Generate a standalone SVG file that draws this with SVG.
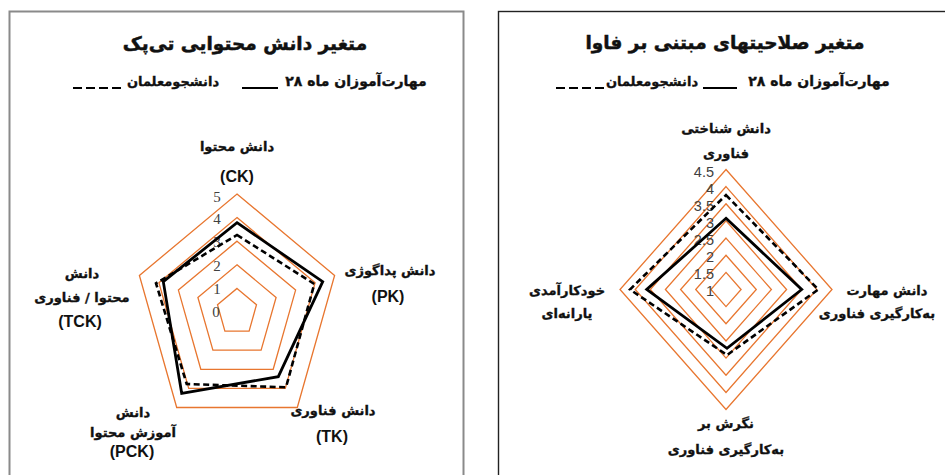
<svg xmlns="http://www.w3.org/2000/svg" width="945" height="475" viewBox="0 0 945 475">
<style>
.fa{font-family:"DejaVu Sans",sans-serif;font-weight:bold;fill:#111;stroke:#111;stroke-width:0.35;text-anchor:middle;direction:rtl}
.ttl{font-size:18.5px;stroke-width:0.5}
.leg{font-size:14px}
.leg2{font-size:13px}
.lab{font-size:13px}
.abbr{font-family:"Liberation Sans",Arial,sans-serif;font-weight:bold;font-size:16px;fill:#111;text-anchor:middle}
.numL{font-family:"Liberation Serif","Times New Roman",serif;font-size:15px;fill:#404040;text-anchor:middle}
.numR{font-family:"Liberation Sans",Arial,sans-serif;font-size:14.5px;fill:#404040;text-anchor:end}
.grid{fill:none;stroke:#E8762F;stroke-width:1.3}
.solid{fill:none;stroke:#000;stroke-width:2.8;stroke-linejoin:miter}
.dash{fill:none;stroke:#000;stroke-width:2.6;stroke-dasharray:6 3.5}
.legsolid{stroke:#000;stroke-width:1.8}
.legdash{stroke:#000;stroke-width:1.8;stroke-dasharray:9 4}
</style>

<g id="left-panel">
<rect x="9.5" y="11.5" width="454" height="480" fill="#fff" stroke="#8a8a8a" stroke-width="2"/>
<text class="fa ttl" x="245" y="50">متغیر دانش محتوایی تی‌پک</text>
<g id="left-legend">
<text class="fa leg" x="356" y="86">مهارت‌آموزان ماه ۲۸</text>
<line class="legsolid" x1="242" y1="88" x2="278" y2="88"/>
<text class="fa leg2" x="173" y="86">دانشجومعلمان</text>
<line class="legdash" x1="73" y1="88" x2="123" y2="88"/>
</g>
<g id="left-grid">
<polygon class="grid" points="237,288.4 256.5,304.7 249.1,331.1 224.9,331.1 217.5,304.7"/>
<polygon class="grid" points="237,264.8 276.1,297.4 261.1,350.2 212.9,350.2 197.9,297.4"/>
<polygon class="grid" points="237,241.2 295.6,290.1 273.2,369.3 200.8,369.3 178.4,290.1"/>
<polygon class="grid" points="237,217.6 315.1,282.8 285.3,388.4 188.7,388.4 158.9,282.8"/>
<polygon class="grid" points="237,194 334.6,275.5 297.3,407.5 176.7,407.5 139.4,275.5"/>
</g>
<g id="left-scale">
<text class="numL" x="217" y="202">5</text>
<text class="numL" x="217" y="224">4</text>
<text class="numL" x="217" y="247">3</text>
<text class="numL" x="217" y="271">2</text>
<text class="numL" x="217" y="294">1</text>
<text class="numL" x="216" y="317">0</text>
</g>
<g id="node-CK">
<text class="fa lab" x="237" y="151">دانش محتوا</text>
<text class="abbr" x="237" y="182">(CK)</text>
</g>
<g id="node-PK">
<text class="fa lab" x="390" y="275">دانش پداگوژی</text>
<text class="abbr" x="388" y="302">(PK)</text>
</g>
<g id="node-TK">
<text class="fa lab" x="333" y="415">دانش فناوری</text>
<text class="abbr" x="332" y="442">(TK)</text>
</g>
<g id="node-PCK">
<text class="fa lab" x="133" y="417">دانش</text>
<text class="fa lab" x="133" y="437">آموزش محتوا</text>
<text class="abbr" x="132" y="457">(PCK)</text>
</g>
<g id="node-TCK">
<text class="fa lab" x="82" y="278">دانش</text>
<text class="fa lab" x="82" y="302">محتوا / فناوری</text>
<text class="abbr" x="80" y="327">(TCK)</text>
</g>
<g id="left-series">
<polygon class="solid" points="237,222.7 322.7,281.7 278.3,376.7 181.7,393.3 163.3,281.7"/>
<polygon class="dash" points="237,235 314.3,284 286,387.3 186.7,384 156,283.3"/>
</g>
</g>

<g id="right-panel">
<rect x="498.5" y="11.5" width="460" height="480" fill="#fff" stroke="#222" stroke-width="1.4"/>
<text class="fa ttl" x="725" y="49">متغیر صلاحیتهای مبتنی بر فاوا</text>
<g id="right-legend">
<text class="fa leg" x="819" y="86">مهارت‌آموزان ماه ۲۸</text>
<line class="legsolid" x1="703" y1="88" x2="737" y2="88"/>
<text class="fa leg2" x="652" y="86">دانشجومعلمان</text>
<line class="legdash" x1="556" y1="88" x2="606" y2="88"/>
</g>
<g id="right-grid">
<polygon class="grid" points="726,272.4 741.1,289.5 726,306.6 710.9,289.5"/>
<polygon class="grid" points="726,255.2 756.3,289.5 726,323.8 695.7,289.5"/>
<polygon class="grid" points="726,238.1 771.4,289.5 726,340.9 680.6,289.5"/>
<polygon class="grid" points="726,220.9 786.6,289.5 726,358.1 665.4,289.5"/>
<polygon class="grid" points="726,203.8 801.7,289.5 726,375.2 650.3,289.5"/>
<polygon class="grid" points="726,186.6 816.8,289.5 726,392.4 635.2,289.5"/>
<polygon class="grid" points="726,169.5 832,289.5 726,409.5 620,289.5"/>
</g>
<g id="right-scale">
<text class="numR" x="714" y="177">4.5</text>
<text class="numR" x="714" y="194">4</text>
<text class="numR" x="714" y="211">3.5</text>
<text class="numR" x="714" y="228">3</text>
<text class="numR" x="714" y="245">2.5</text>
<text class="numR" x="714" y="262">2</text>
<text class="numR" x="714" y="279">1.5</text>
<text class="numR" x="714" y="296">1</text>
</g>
<g id="node-cognitive">
<text class="fa lab" x="726" y="133">دانش شناختی</text>
<text class="fa lab" x="726" y="158">فناوری</text>
</g>
<g id="node-skill">
<text class="fa lab" x="887" y="295">دانش مهارت</text>
<text class="fa lab" x="877" y="318">به‌کارگیری فناوری</text>
</g>
<g id="node-attitude">
<text class="fa lab" x="726" y="428">نگرش بر</text>
<text class="fa lab" x="726" y="454">به‌کارگیری فناوری</text>
</g>
<g id="node-selfefficacy">
<text class="fa lab" x="567" y="295">خودکارآمدی</text>
<text class="fa lab" x="567" y="318">یارانه‌ای</text>
</g>
<g id="right-series">
<polygon class="solid" points="726,218.3 801.7,289.5 727,348.3 646.7,289.5"/>
<polygon class="dash" points="726,195 818.3,289.5 727,355 630,289.5"/>
</g>
</g>
</svg>
